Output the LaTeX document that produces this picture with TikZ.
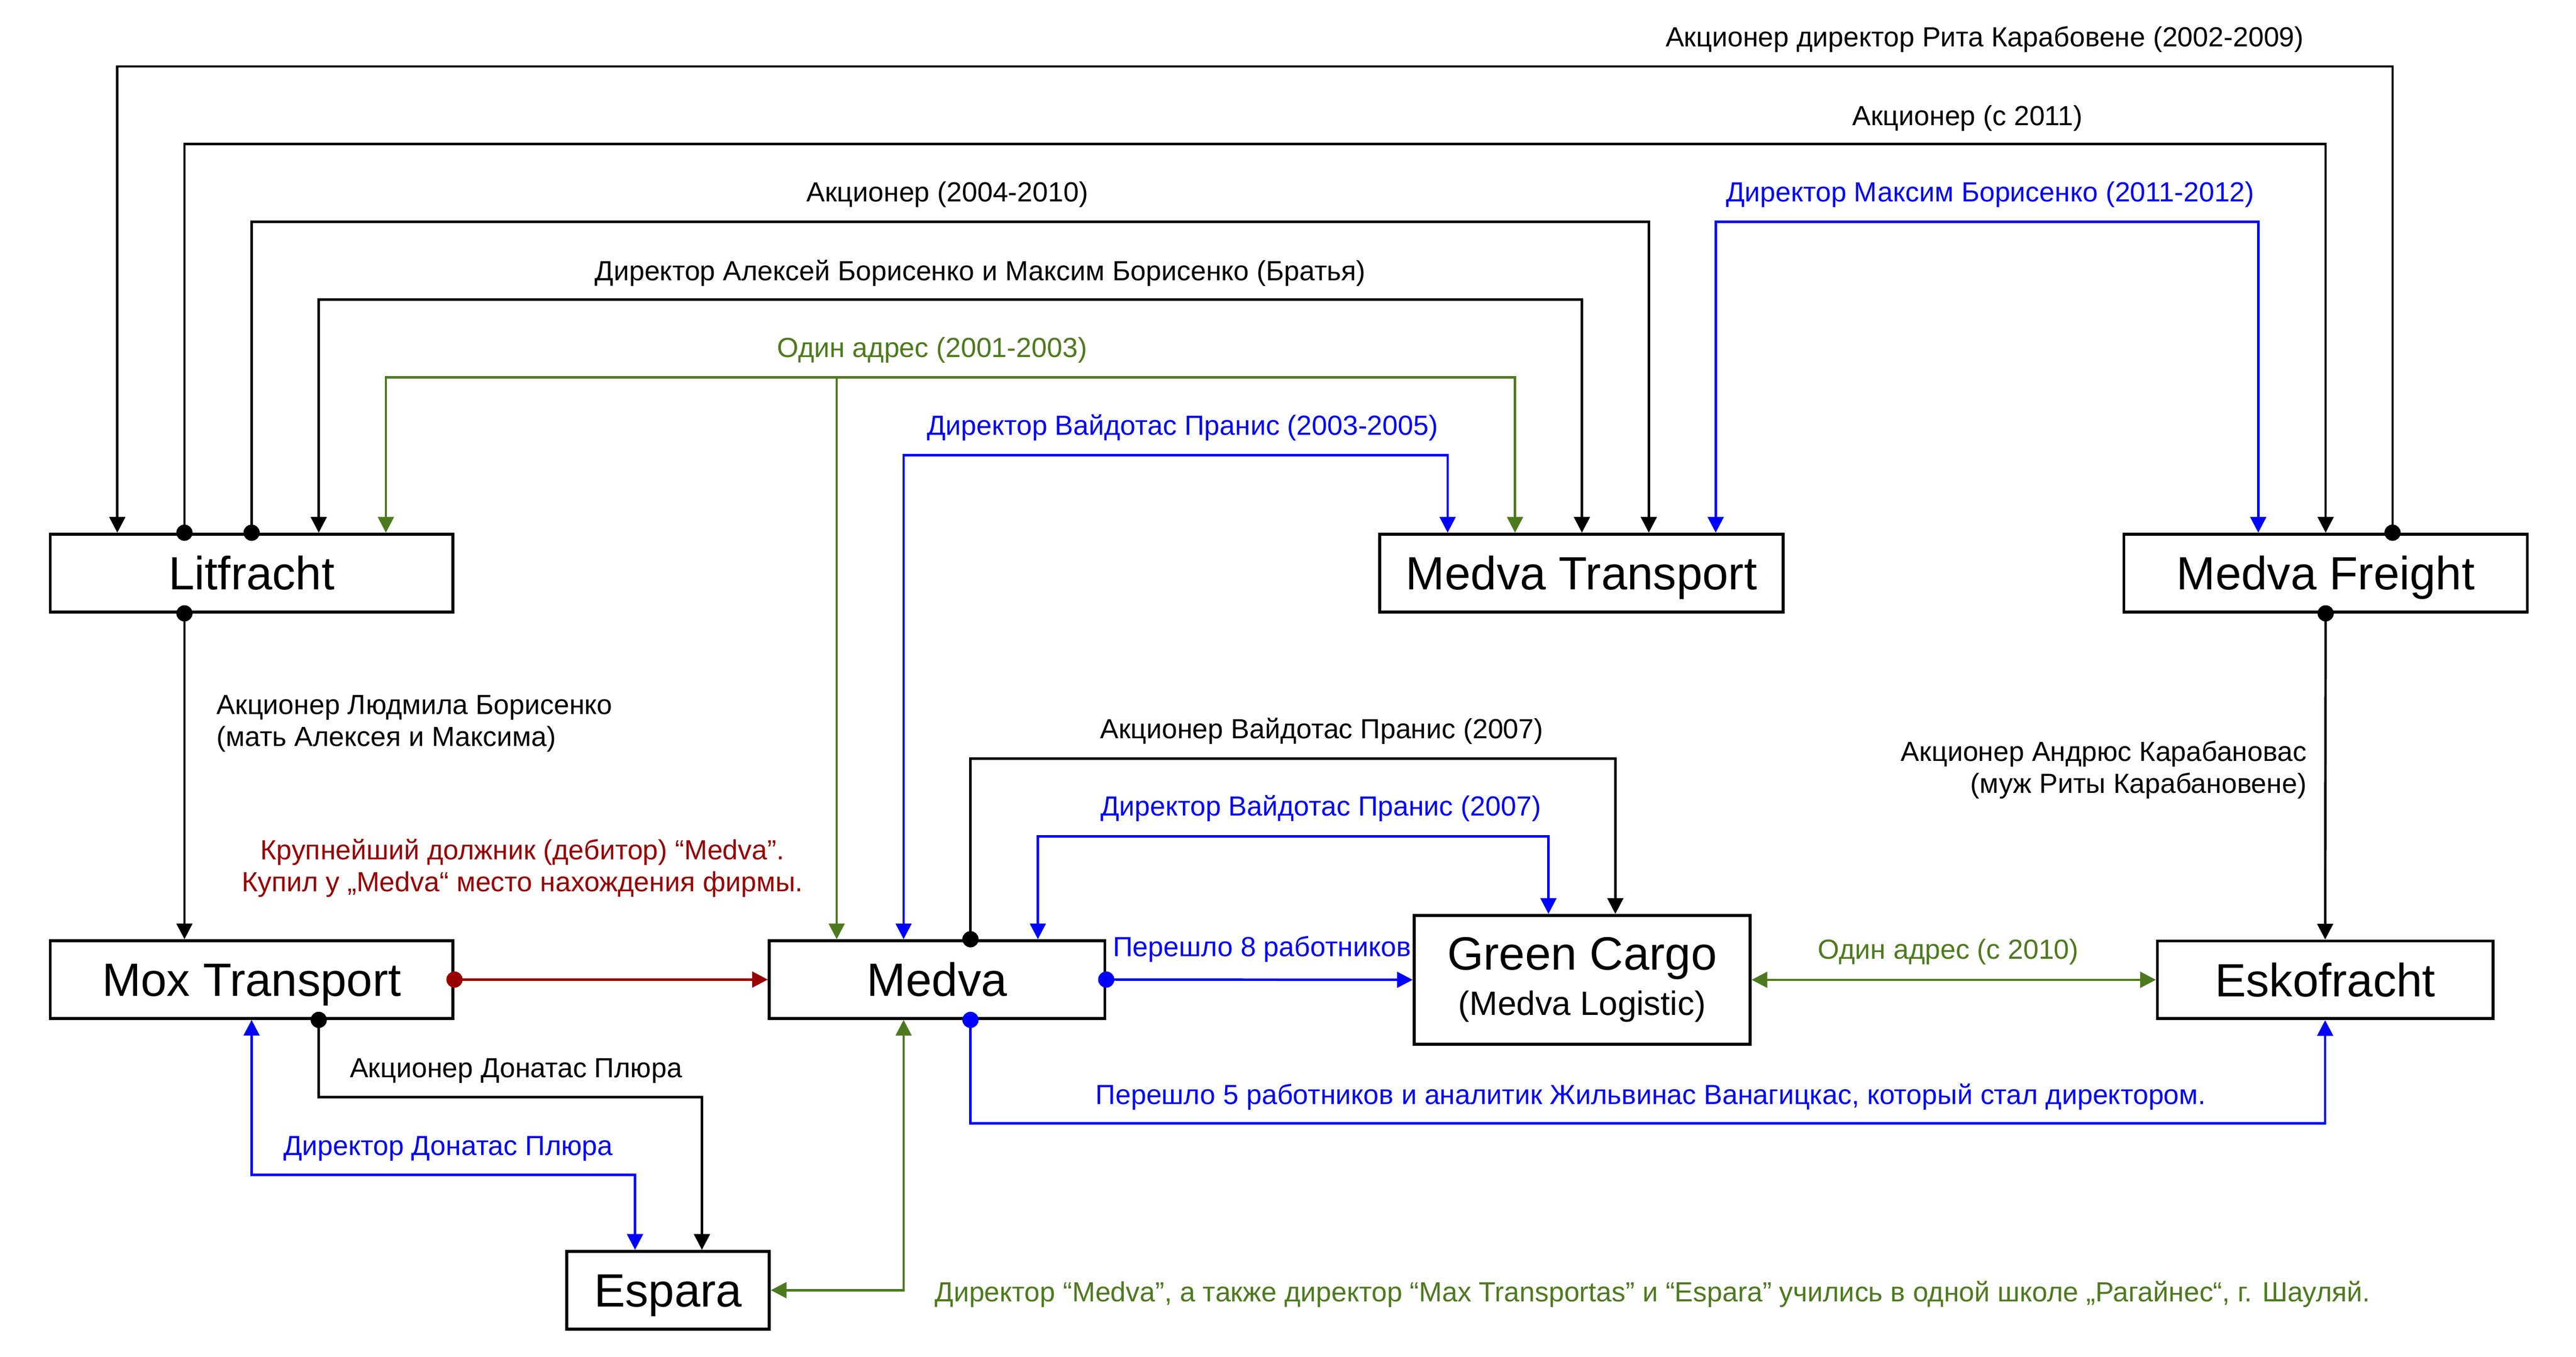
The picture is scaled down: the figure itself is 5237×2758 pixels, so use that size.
\documentclass[tikz,border=0pt]{standalone}
\usepackage{fontspec}
\setmainfont{Liberation Sans}
\usetikzlibrary{arrows.meta,calc}
\definecolor{grn}{RGB}{77,122,30}
\definecolor{drk}{RGB}{153,0,0}
\definecolor{blu}{RGB}{0,0,255}
\tikzset{
  >={Triangle[length=3.2mm,width=3.2mm]},
  box/.style={draw,line width=1.7pt,minimum height=15.8mm,font=\fontsize{27}{26.4}\selectfont},
  firm/.style={box,text height=19.3pt,text depth=0pt},
  link/.style={line width=1.4pt},
  fromdot/.style={{Circle[length=3.3mm]}->,shorten <=-1.65mm},
  note/.style={inner sep=0pt,yshift=-0.5mm,font=\fontsize{16}{18.3}\selectfont}
}
\begin{document}
\begin{tikzpicture}[x=0.1mm,y=-0.1mm]
   \useasboundingbox (0,0) rectangle (5237,2758);
   % firms
   \node[firm,minimum width=81.9mm] (lit) at (511.5,1165) {Litfracht};
   \node[firm,minimum width=82mm] (mtr) at (3215,1165) {Medva Transport};
   \node[firm,minimum width=82mm] (mfr) at (4728,1165) {Medva Freight};
   \node[firm,minimum width=81.9mm] (mox) at (511.5,1991.5) {Mox Transport};
   \node[firm,minimum width=68.2mm] (medva) at (1905,1991.5) {Medva};
   \node[firm,minimum width=41.2mm] (esp) at (1358,2623) {Espara};
   \node[firm,minimum width=68.2mm] (esko) at (4727,1992) {Eskofracht};
   \node[box,minimum width=68.3mm,minimum height=26.2mm,align=center] (gc) at (3216.5,1992)
      {Green Cargo\\\fontsize{19.5}{26.4}\selectfont(Medva Logistic)};
   % lines over the top
   \draw[link,fromdot] ($(mfr.north)+(136,0)$) -- ++(0,-948) -| ($(lit.north)+(-273,0)$);
   \draw[link,fromdot] ($(lit.north)+(-136.5,0)$) -- ++(0,-790) -| (mfr.north);
   \draw[link,fromdot] (lit.north) -- ++(0,-632) -| ($(mtr.north)+(137,0)$);
   \draw[link,<->] ($(lit.north)+(136.5,0)$) -- ++(0,-474) -| ($(mtr.north)+(1,0)$);
   \draw[link,grn,<->] ($(lit.north)+(273,0)$) -- ++(0,-316) -| ($(mtr.north)+(-135,0)$);
   \draw[link,grn,<-] ($(medva.north)+(-204,0)$) -- ++(0,-1142);
   \draw[link,blu,<->] ($(medva.north)+(-68,0)$) -- ++(0,-984) -| ($(mtr.north)+(-272,0)$);
   \draw[link,blu,<->] ($(mtr.north)+(273,0)$) -- ++(0,-632) -| ($(mfr.north)+(-137,0)$);
   \node[note] (rita) at (4035,75) {Акционер директор Рита Карабовене (2002-2009)};
   \node[note] (since) at (4000,235) {Акционер (с 2011)};
   \node[note] (share) at (1926,391) {Акционер (2004-2010)};
   \node[note,blu] (maxim) at (4046,391) {Директор Максим Борисенко (2011-2012)};
   \node[note] (bros) at (1993,550) {Директор Алексей Борисенко и Максим Борисенко (Братья)};
   \node[note,grn] (addr) at (1895,707) {Один адрес (2001-2003)};
   \node[note,blu] (vaid) at (2404,865) {Директор Вайдотас Пранис (2003-2005)};
   % left side
   \draw[link,fromdot] ($(lit.south)+(-136.5,0)$) -- ($(mox.north)+(-136.5,0)$);
   \draw[link,drk,fromdot] (mox.east) -- (medva.west);
   \draw[link,fromdot] ($(mox.south)+(136.5,0)$) -- ++(0,157) -| ($(esp.north)+(69,0)$);
   \draw[link,blu,<->] (mox.south) -- ++(0,315) -| ($(esp.north)+(-67,0)$);
   \draw[link,grn,<->] ($(medva.south)+(-68,0)$) |- (esp.east);
   \node[note,align=left,anchor=west] (mother) at (440,1466)
      {Акционер Людмила Борисенко\\(мать Алексея и Максима)};
   \node[note,drk,align=center] (debt) at (1062,1760)
      {Крупнейший должник (дебитор) “Medva”.\\Купил у „Medva“ место нахождения фирмы.};
   \node[note] (plshare) at (1049,2172) {Акционер Донатас Плюра};
   \node[note,blu] (pldir) at (911,2330) {Директор Донатас Плюра};
   \node[note,grn,anchor=west] (school) at (1900,2626)
      {Директор “Medva”, а также директор “Max Transportas” и “Espara” учились в одной школе „Рагайнес“, г. Шауляй.};
   % Green Cargo and Eskofracht
   \draw[link,fromdot] ($(medva.north)+(68,0)$) -- ++(0,-367) -| ($(gc.north)+(67.5,0)$);
   \draw[link,blu,<->] ($(medva.north)+(205,0)$) -- ++(0,-209) -| ($(gc.north)+(-68.5,0)$);
   \draw[link,blu,fromdot] (medva.east) -- (gc.west);
   \draw[link,grn,<->] (gc.east) -- (esko.west);
   \draw[link,fromdot] (mfr.south) -- (esko.north);
   \draw[link,blu,fromdot] ($(medva.south)+(68,0)$) -- ++(0,210) -| (esko.south);
   \node[note] (vshare) at (2687,1481) {Акционер Вайдотас Пранис (2007)};
   \node[note,blu] (vdir) at (2685,1639) {Директор Вайдотас Пранис (2007)};
   \node[note,blu,anchor=west] (eight) at (2262,1925) {Перешло 8 работников};
   \node[note,grn] (addr2) at (3961,1930) {Один адрес (с 2010)};
   \node[note,align=right,anchor=east] (husb) at (4690,1560)
      {Акционер Андрюс Карабановас\\(муж Риты Карабановене)};
   \node[note,blu] (five) at (3356,2225)
      {Перешло 5 работников и аналитик Жильвинас Ванагицкас, который стал директором.};
\end{tikzpicture}
\end{document}
